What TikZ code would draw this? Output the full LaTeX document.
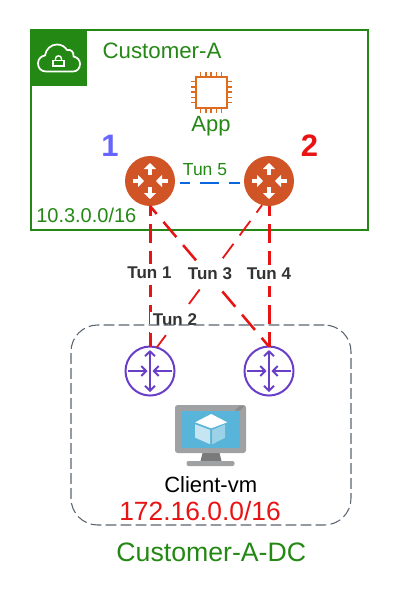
\documentclass[tikz,border=0pt]{standalone}
\usepackage{fontspec}
\setmainfont{Liberation Sans}
\usetikzlibrary{positioning, arrows.meta}
\definecolor{awsgreen}{HTML}{248814}
\definecolor{awsorange}{HTML}{D05426}
\definecolor{chiporange}{HTML}{DD6B20}
\definecolor{tunred}{HTML}{E81313}
\definecolor{tunblue}{HTML}{0A66DC}
\definecolor{azurepurple}{HTML}{6A3FC8}
\definecolor{borderslate}{HTML}{5A6470}
\definecolor{monitorgray}{HTML}{A0A1A2}
\definecolor{screenblue}{HTML}{59B4D9}
\newcommand{\pxfont}[1]{\fontsize{#1}{#1}\selectfont}
\tikzset{
	routerarrow/.style={white, line width=2.6pt, -{Triangle[length=4.5pt, width=9pt]}},
	hubarrow/.style={azurepurple, line width=1.5pt},
	pics/routerarrows/.style={code={
		\foreach \sgn in {-1,1} {
			\draw[routerarrow] (0,\sgn*6) -- (0,\sgn*18);
			\draw[routerarrow] (\sgn*17.5,0) -- (\sgn*6,0);
		}
	}},
	pics/hubarrows/.style={code={
		\draw[hubarrow, {Straight Barb[length=3.6pt, width=7.5pt]}-{Straight Barb[length=3.6pt, width=7.5pt]}] (0,-21) -- (0,21);
		\foreach \sgn in {-1,1} {
			\draw[hubarrow, -{Straight Barb[length=3.6pt, width=7.5pt]}] (\sgn*22,0) -- (\sgn*2.5,0);
		}
	}},
	pics/cloudlock/.style={code={
		\draw[white, line width=1.3pt, line join=round] (-13,13.5) .. controls (-18,13.5) and (-21,10) .. (-21,5.5) .. controls (-21,1) and (-18,-2) .. (-14,-2.5) .. controls (-13,-9) and (-8,-13.5) .. (-2,-13.5) .. controls (3,-13.5) and (6,-11) .. (8,-8) .. controls (12,-9) and (15,-6) .. (14.5,-1.5) .. controls (18.5,-0.5) and (21,2) .. (21,6) .. controls (21,10.5) and (18,13.5) .. (14,13.5) -- cycle;
		\draw[white, line width=1.1pt] (-6,2.5) rectangle (5,8);
		\draw[white, line width=1.1pt] (-3.5,2.5) -- (-3.5,0.5) .. controls (-3.5,-3) and (2.5,-3) .. (2.5,0.5) -- (2.5,2.5);
	}},
	pics/chippins/.style={code={
		\foreach \off in {-10.5,-5.25,0,5.25,10.5} {
			\draw[chiporange, line width=1.1pt] (\off,-20.5) -- (\off,-15.5);
			\draw[chiporange, line width=1.1pt] (\off,15.5) -- (\off,20.5);
			\draw[chiporange, line width=1.1pt] (-20.5,\off) -- (-15.5,\off);
			\draw[chiporange, line width=1.1pt] (15.5,\off) -- (20.5,\off);
		}
	}},
	pics/vmscreen/.style={code={
		\fill[black!52] (-8,28) -- (9,28) -- (11,36) -- (-10,36) -- cycle;
		\fill[monitorgray, rounded corners=1.5pt] (-24,36) rectangle (24,41);
		\fill[monitorgray, rounded corners=2pt] (-35.5,-20) rectangle (35.5,28);
		\fill[black!45] (29.5,-14.5) -- (34,-19) -- (29,-19) -- (24,-14.5) -- cycle;
		\fill[screenblue] (-30,-14.5) rectangle (29.5,22.5);
		\fill[white] (0.7,-11) -- (16.7,-2.7) -- (0.7,3.3) -- (-15.3,-2.7) -- cycle;
		\fill[screenblue!35!white] (-15.3,-0.7) -- (-0.3,5) -- (-0.3,19.3) -- (-15.3,12.7) -- cycle;
		\fill[screenblue!60!white] (1.7,5) -- (14.7,-0.7) -- (14.7,12.7) -- (1.7,19.3) -- cycle;
	}}
}
\begin{document}
\begin{tikzpicture}[
		x=0.75pt, y=-0.75pt,
		vpcbox/.style={draw=awsgreen, line width=1.5pt, minimum width=252.75pt, minimum height=150pt, outer sep=0pt},
		vpccorner/.style={fill=awsgreen, minimum size=42pt, inner sep=0pt, outer sep=0pt, anchor=north west},
		dcbox/.style={draw=borderslate, line width=0.8pt, dash pattern=on 8pt off 3.25pt, rounded corners=20pt, minimum width=210pt, minimum height=150pt, outer sep=0pt},
		awsrouter/.style={circle, fill=awsorange, minimum size=37.5pt, inner sep=0pt, outer sep=0pt},
		hubrouter/.style={circle, draw=azurepurple, line width=1.5pt, fill=white, minimum size=36.75pt, inner sep=0pt, outer sep=0pt},
		chipcore/.style={draw=chiporange, line width=1.5pt, fill=white, minimum size=23.25pt, inner sep=0pt, outer sep=0pt},
		vertun/.style={tunred, line width=2.25pt, dash pattern=on 14.25pt off 6pt, dash phase=6.75pt},
		crosstun/.style={tunred, line width=1.9pt, dash pattern=on 15pt off 7.8pt, dash phase=7.2pt},
		thintun/.style={tunred, line width=1.35pt, dash pattern=on 13.5pt off 7.8pt, dash phase=6.45pt},
		peertun/.style={tunblue, line width=1.5pt, dash pattern=on 14.25pt off 7.5pt, dash phase=6.75pt, shorten <=3.75pt, shorten >=3pt},
		tunlabel/.style={anchor=base, fill=white, font=\pxfont{12.75}\bfseries, text=black!80, text height=10.5pt, text depth=5.25pt, inner ysep=0pt, inner xsep=2pt},
		greentext/.style={anchor=base, text=awsgreen, inner sep=0pt},
		sitenum/.style={anchor=base, font=\pxfont{23.25}\bfseries, inner sep=0pt}
		]
		\useasboundingbox (0,0) rectangle (405,603);
		\node[vpcbox] (custa) at (199.5,130) {};
		\node[vpccorner] (vpcicon) at (custa.north west) {};
		\pic at (vpcicon) {cloudlock};
		\node[greentext, font=\pxfont{16.7}] (custaname) at (162,58) {Customer-A};
		\node[greentext, font=\pxfont{15}, anchor=base west] (custanet) at (36,222.3) {10.3.0.0/16};
		
		\node[chipcore] (app) at (211.2,92.2) {};
		\pic at (app) {chippins};
		\node[greentext, font=\pxfont{16.5}] (applabel) at (211,131.5) {App};
		
		\node[awsrouter] (rtra) at (150,181) {};
		\node[awsrouter, right=51.75pt of rtra] (rtrb) {};
		\pic at (rtra) {routerarrows};
		\pic at (rtrb) {routerarrows};
		\node[sitenum, text=blue!60!white] (numa) at (110,156.7) {1};
		\node[sitenum, text=tunred] (numb) at (309.5,156.7) {2};
		
		\node[hubrouter, below=105.4pt of rtra] (rtrc) {};
		\node[hubrouter, right=52.5pt of rtrc] (rtrd) {};
		\pic at (rtrc) {hubarrows};
		\pic at (rtrd) {hubarrows};
		
		\draw[peertun] (rtra.-5) -- (rtrb.185);
		\node[greentext, font=\pxfont{13.1}] (tunfive) at (205,175) {Tun 5};
		
		\draw[vertun] (rtra.south) -- (rtrc.north);
		\draw[vertun] (rtrb.south) -- (rtrd.north);
		\draw[crosstun] (rtra.south) -- (rtrd.north);
		\draw[thintun] (rtrb.254) -- (rtrc.74);
		
		\node[tunlabel] (tunone) at (149.5,278) {Tun 1};
		\node[tunlabel] (tunthree) at (210,279) {Tun 3};
		\node[tunlabel] (tunfour) at (269,279) {Tun 4};
		\node[tunlabel] (tuntwo) at (175,325.7) {Tun 2};
		
		\node[dcbox] (custdc) at (211,425) {};
		\pic at (210.5,425) {vmscreen};
		\node[anchor=base, font=\pxfont{16.5}, inner sep=0pt] (vmname) at (210.7,492.3) {Client-vm};
		\node[anchor=base, font=\pxfont{19.8}, text=tunred, inner sep=0pt] (dcnet) at (200,520) {172.16.0.0/16};
		\node[greentext, font=\pxfont{20}] (dcname) at (211.3,561.7) {Customer-A-DC};
		
	\end{tikzpicture}
\end{document}
